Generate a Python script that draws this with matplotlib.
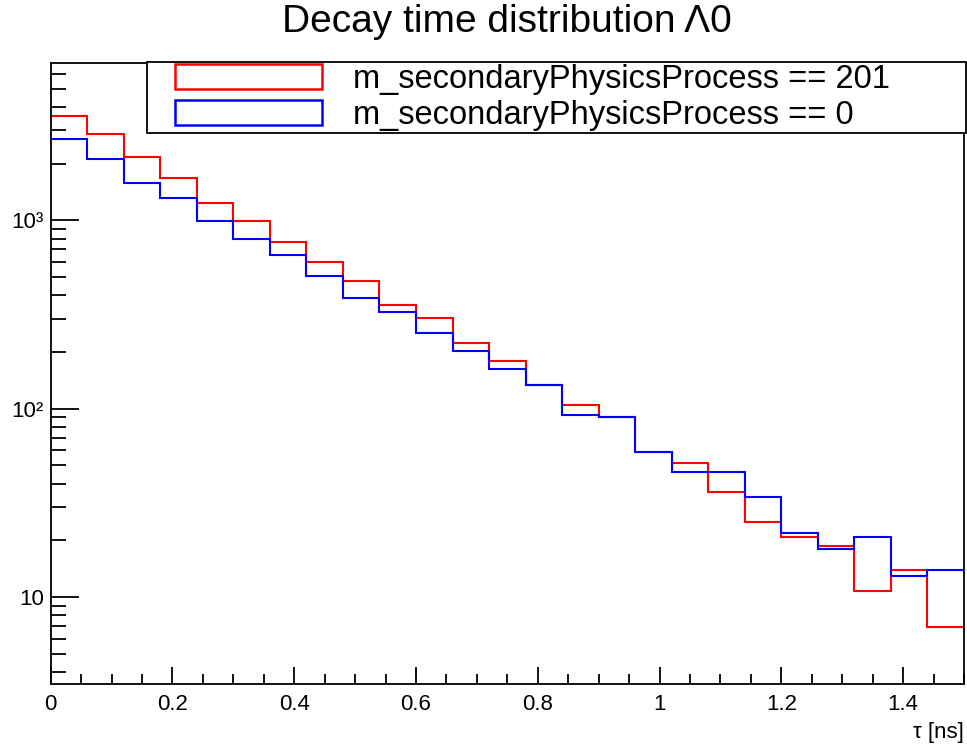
import numpy as np
import matplotlib
matplotlib.use("Agg")
import matplotlib.pyplot as plt
from matplotlib.patches import Patch, Rectangle
from matplotlib.legend_handler import HandlerPatch
from matplotlib.ticker import FixedLocator, FixedFormatter, LogLocator, NullFormatter, MultipleLocator

plt.rcParams['font.family'] = ['Liberation Sans', 'DejaVu Sans']

# histogram binning: 25 bins of 0.06 ns
bin_edges = np.linspace(0.0, 1.5, 26)

# counts
counts_201 = [3565, 2857, 2167, 1670, 1235, 991, 764, 604, 477, 353, 302, 222, 179,
              134, 104.5, 90.5, 59, 51.8, 36.2, 25.1, 20.9, 18.7, 10.8, 14.0, 6.95]
counts_0 = [2698, 2125, 1578, 1319, 991, 796, 655, 505, 389, 325, 251, 203, 162,
            134, 93, 90.5, 59, 46.2, 46.2, 33.8, 21.8, 17.9, 20.9, 12.9, 14.0]

label_201 = "m_secondaryPhysicsProcess == 201"
label_0 = "m_secondaryPhysicsProcess == 0"
title = "Decay time distribution Λ0"
x_label = "τ [ns]"

x_ticks = [0, 0.2, 0.4, 0.6, 0.8, 1.0, 1.2, 1.4]
x_tick_labels = ["0", "0.2", "0.4", "0.6", "0.8", "1", "1.2", "1.4"]
y_ticks = [10, 100, 1000]
y_tick_labels = ["10", "10²", "10³"]

fig = plt.figure(figsize=(9.67, 7.48), dpi=100)
ax = fig.add_axes([0.0524, 0.0856, 0.9445, 0.8298])

ax.stairs(counts_201, bin_edges, baseline=None, color="#ff0000", lw=1.5)
ax.stairs(counts_0, bin_edges, baseline=None, color="#0000ff", lw=1.5)

ax.set_yscale("log")
ax.set_xlim(0, 1.5)
ax.set_ylim(3.46, 6810)

# ROOT-like ticks: inside, left and bottom only
ax.xaxis.set_major_locator(FixedLocator(x_ticks))
ax.xaxis.set_major_formatter(FixedFormatter(x_tick_labels))
ax.xaxis.set_minor_locator(MultipleLocator(0.05))
ax.yaxis.set_major_locator(FixedLocator(y_ticks))
ax.yaxis.set_major_formatter(FixedFormatter(y_tick_labels))
ax.yaxis.set_minor_locator(LogLocator(base=10, subs=np.arange(2, 10)))
ax.yaxis.set_minor_formatter(NullFormatter())

ax.tick_params(axis="x", which="major", direction="in", length=12, width=1.3,
               labelsize=16, pad=7)
ax.tick_params(axis="x", which="minor", direction="in", length=7, width=1.3)
ax.tick_params(axis="y", which="major", direction="in", length=20, width=1.3,
               labelsize=16, pad=5)
ax.tick_params(axis="y", which="minor", direction="in", length=11, width=1.3)
for s in ax.spines.values():
    s.set_linewidth(1.3)

ax.set_xlabel(x_label, loc="right", fontsize=16, labelpad=5)
fig.text(0.524, 1 - 32 / 748, title, ha="center", va="baseline", fontsize=28)


# legend boxes: ROOT style, inset from the left edge of the legend frame
def box_handle(legend, orig_handle, xdescent, ydescent, width, height, fontsize):
    return Rectangle((-xdescent + 19, -ydescent), width - 19, height)


leg_fs = 23.5
handles = [Patch(facecolor="white", edgecolor="#ff0000", lw=1.8),
           Patch(facecolor="white", edgecolor="#0000ff", lw=1.8)]
leg = ax.legend(handles, [label_201, label_0], loc="upper left",
                bbox_to_anchor=(147 / 967, 1 - 132 / 748, 819 / 967, 70 / 748),
                bbox_transform=fig.transFigure, mode="expand",
                handler_map={Patch: HandlerPatch(patch_func=box_handle)},
                fontsize=leg_fs, handlelength=(19 + 106) / leg_fs,
                handleheight=19 / leg_fs, handletextpad=22 / leg_fs,
                labelspacing=0.17, borderpad=0.05,
                borderaxespad=0, fancybox=False, framealpha=1, edgecolor="black")
leg.get_frame().set_linewidth(1.3)

fig.savefig("out.png", dpi=100)
